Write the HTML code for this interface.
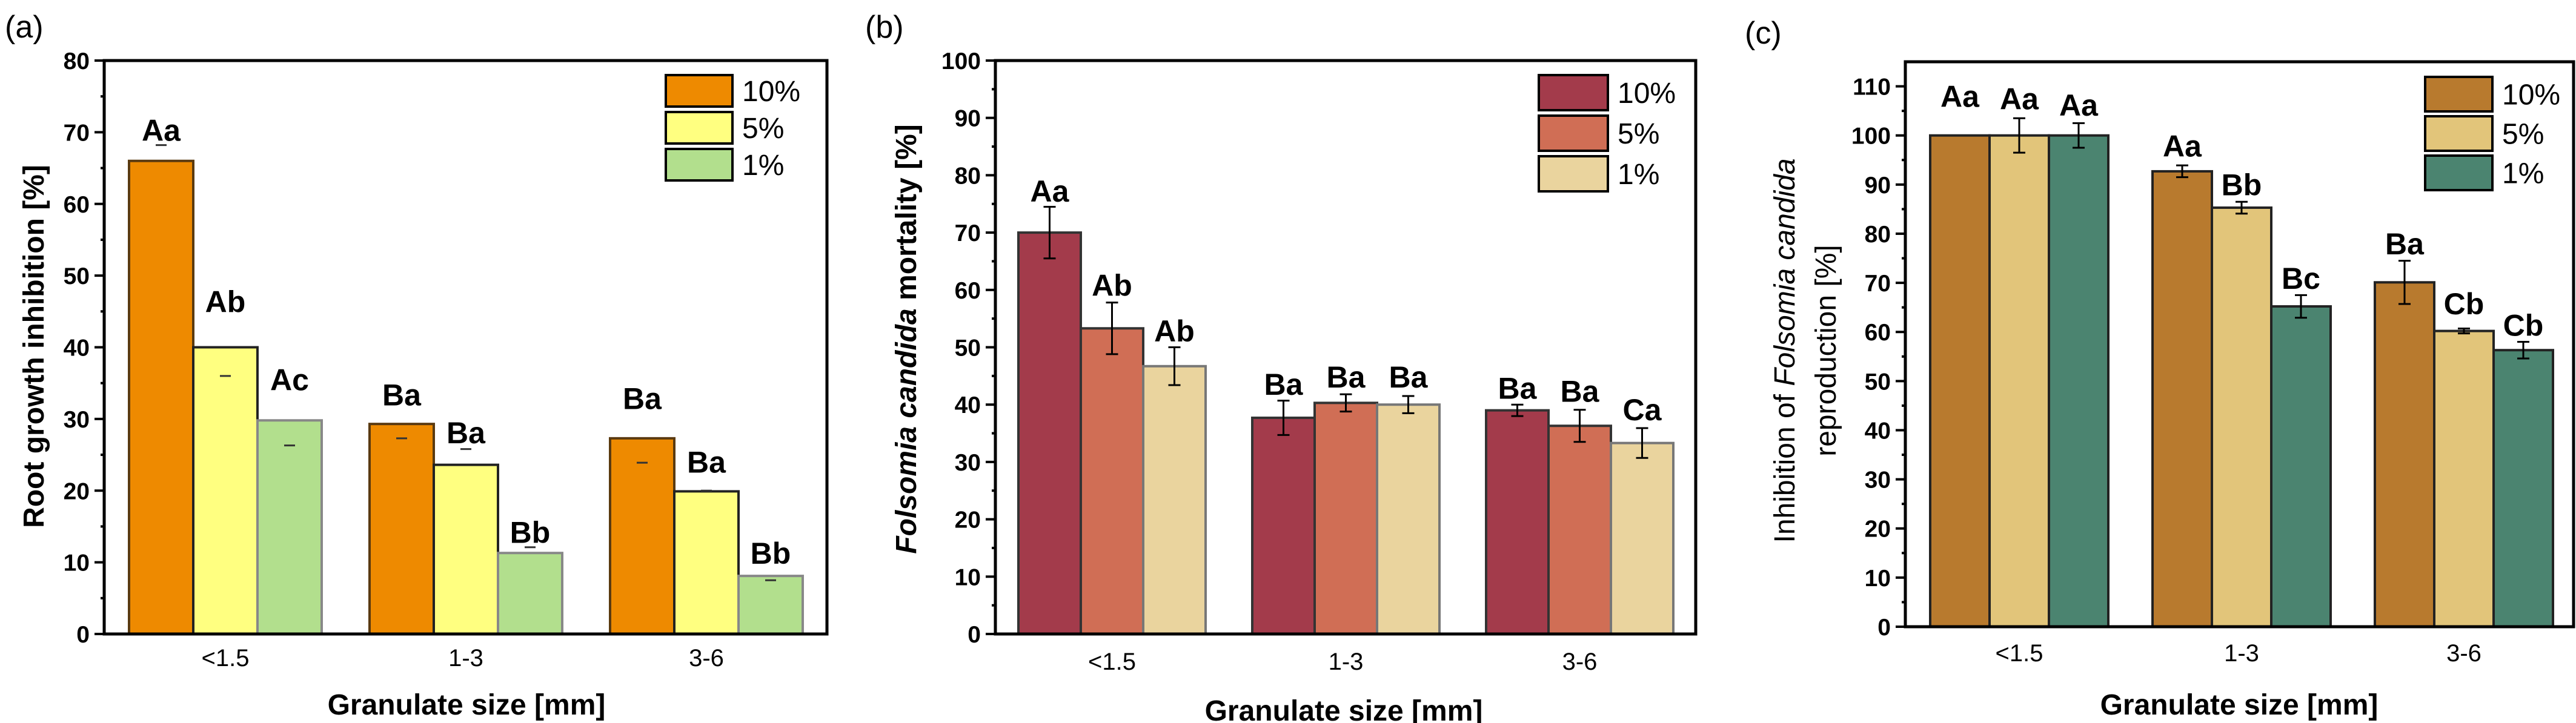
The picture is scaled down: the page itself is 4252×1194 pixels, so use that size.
<!DOCTYPE html>
<html><head><meta charset="utf-8"><style>
html,body{margin:0;padding:0;background:#fff;}
svg{display:block;font-family:"Liberation Sans",Arial,sans-serif;}
</style></head><body>
<svg id="fig" width="4252" height="1194" viewBox="0 0 4252 1194" xmlns="http://www.w3.org/2000/svg">
<text x="8" y="62" font-size="52">(a)</text>
<text x="1428" y="62" font-size="52">(b)</text>
<text x="2880" y="72" font-size="52">(c)</text>
<text transform="translate(72,572) rotate(-90)" text-anchor="middle" font-size="48" font-weight="bold">Root growth inhibition [%]</text>
<text transform="translate(1512,560) rotate(-90)" text-anchor="middle" font-size="48" font-weight="bold"><tspan font-style="italic">Folsomia candida</tspan> mortality [%]</text>
<text transform="translate(2962,579) rotate(-90)" text-anchor="middle" font-size="48">Inhibition of <tspan font-style="italic">Folsomia candida</tspan></text>
<text transform="translate(3030,579) rotate(-90)" text-anchor="middle" font-size="48">reproduction [%]</text>
<text x="770" y="1180" text-anchor="middle" font-size="48" font-weight="bold">Granulate size [mm]</text>
<text x="2218" y="1190" text-anchor="middle" font-size="48" font-weight="bold">Granulate size [mm]</text>
<text x="3696" y="1180" text-anchor="middle" font-size="48" font-weight="bold">Granulate size [mm]</text>
</svg>
<script>
const categories = ["<1.5","1-3","3-6"];
const seriesNames = ["10%","5%","1%"];
// panel a
const aValues10 = [66, 29.3, 27.3];
const aValues5 = [40, 23.6, 19.9];
const aValues1 = [29.8, 11.3, 8.1];
const aLetters = [["Aa","Ab","Ac"],["Ba","Ba","Bb"],["Ba","Ba","Bb"]];
const aLetterY = [[68.8,44.9,34],[31.9,26.6,12.7],[31.4,22.5,9.8]];
const aErrMark = [[68.2,36,26.3],[27.3,25.8,12.1],[23.9,20,7.5]];
const aTicks = [0,10,20,30,40,50,60,70,80];
// panel b
const bValues10 = [70, 37.7, 39];
const bValues5 = [53.3, 40.3, 36.3];
const bValues1 = [46.7, 40, 33.3];
const bErr10 = [4.5, 3, 1];
const bErr5 = [4.5, 1.5, 2.8];
const bErr1 = [3.3, 1.5, 2.6];
const bLetters = [["Aa","Ab","Ab"],["Ba","Ba","Ba"],["Ba","Ba","Ca"]];
const bLetterY = [[75.4,59,51],[41.7,43,43],[41,40.5,37.3]];
const bTicks = [0,10,20,30,40,50,60,70,80,90,100];
// panel c
const cValues10 = [100, 92.7, 70.1];
const cValues5 = [100, 85.3, 60.2];
const cValues1 = [100, 65.2, 56.3];
const cErr10 = [0, 1.2, 4.4];
const cErr5 = [3.5, 1.2, 0.5];
const cErr1 = [2.5, 2.3, 1.7];
const cLetters = [["Aa","Aa","Aa"],["Aa","Bb","Bc"],["Ba","Cb","Cb"]];
const cLetterY = [[105.8,105.3,104],[95.7,87.8,68.8],[75.8,63.6,59.2]];
const cTicks = [0,10,20,30,40,50,60,70,80,90,100,110];

const NS="http://www.w3.org/2000/svg";
const svg=document.getElementById('fig');
function mk(tag,attrs,parent){const e=document.createElementNS(NS,tag);for(const k in attrs)e.setAttribute(k,attrs[k]);(parent||svg).appendChild(e);return e;}

function panel(p){
  const g=mk('g',{});
  
  
  const y=v=>p.y0-(v-p.ymin)/(p.ymax-p.ymin)*(p.y0-p.top);
  // ticks
  for(let v=p.ymin; v<=p.tickMax+0.001; v+=p.minor){
    const major=Math.abs(v/p.major-Math.round(v/p.major))<1e-6;
    const t=mk('line',{x1:p.left-(major?16:6),x2:p.left,y1:y(v),y2:y(v),stroke:'#000','stroke-width':4},g);
    
    
  }
  p.ticks.forEach(v=>{
    const t=mk('text',{x:p.left-24,y:y(v)+14,'text-anchor':'end','font-size':39,'font-weight':'bold'},g);
    t.textContent=v;
    
    
  });
  // bars
  const series=[p.v10,p.v5,p.v1];
  categories.forEach((c,i)=>{
    const gx=p.g0+i*p.gstep;
    series.forEach((vals,s)=>{
      const x=gx+s*p.bw, v=vals[i];
      const r=mk('rect',{x:x,y:y(v),width:p.bw,height:y(0)-y(v),fill:p.colors[s],stroke:p.stroke[s],'stroke-width':4},g);
      
      
      const cx=x+p.bw/2;
      if(p.err){
        const e=p.err[s][i];
        if(e>0){
          const el=mk('path',{d:`M${cx},${y(v-e)}V${y(v+e)}M${cx-10},${y(v-e)}h20M${cx-10},${y(v+e)}h20`,stroke:'#000','stroke-width':3,fill:'none'},g);
          
          
        }
      }
      if(p.errMark){
        const m=mk('line',{x1:cx-9,x2:cx+9,y1:y(p.errMark[i][s]),y2:y(p.errMark[i][s]),stroke:'#333','stroke-width':3},g);
        
        
      }
      const lt=mk('text',{x:cx,y:y(p.letterY[i][s]),'text-anchor':'middle','font-size':50,'font-weight':'bold'},g);
      lt.textContent=p.letters[i][s];
      
      
    });
    const cl=mk('text',{x:gx+1.5*p.bw,y:p.catY,'text-anchor':'middle','font-size':40},g);
    cl.textContent=c;
    
    
  });
  // frame
  const fr=mk('rect',{x:p.left,y:p.top,width:p.right-p.left,height:y(0)-p.top,fill:'none',stroke:'#000','stroke-width':5},g);
  
  
  // legend
  seriesNames.forEach((n,s)=>{
    const ly=p.legY+s*p.legStep;
    const r=mk('rect',{x:p.legX,y:ly,width:p.legW,height:p.legH,fill:p.colors[s],stroke:'#000','stroke-width':4},g);
    
    
    const t=mk('text',{x:p.legX+p.legW+16,y:ly+p.legH/2+17,'font-size':48},g);
    t.textContent=n;
    
    
  });
}
panel({id:'a',left:172,right:1365,top:100,y0:1047,ymin:0,ymax:80,tickMax:80,major:10,minor:5,ticks:aTicks,
  v10:aValues10,v5:aValues5,v1:aValues1,errMark:aErrMark,letters:aLetters,letterY:aLetterY,
  g0:213,gstep:397,bw:106,catY:1100,colors:['#EE8A00','#FFFF80','#B2DF8D'],stroke:['#5a3a10','#222','#888'],
  legX:1099,legY:124,legStep:61,legW:110,legH:52});
panel({id:'b',left:1643,right:2799,top:100,y0:1047,ymin:0,ymax:100,tickMax:100,major:10,minor:5,ticks:bTicks,
  v10:bValues10,v5:bValues5,v1:bValues1,err:[bErr10,bErr5,bErr1],letters:bLetters,letterY:bLetterY,
  g0:1681,gstep:386,bw:103,catY:1106,colors:['#A33B4B','#D06E55','#EAD49E'],stroke:['#333','#333','#777'],
  legX:2540,legY:124,legStep:67,legW:114,legH:58});
panel({id:'c',left:3145,right:4248,top:102,y0:1035,ymin:0,ymax:115,tickMax:110,major:10,minor:5,ticks:cTicks,
  v10:cValues10,v5:cValues5,v1:cValues1,err:[cErr10,cErr5,cErr1],letters:cLetters,letterY:cLetterY,
  g0:3186,gstep:367,bw:98,catY:1092,colors:['#B87A2E','#E2C57A','#4B8470'],stroke:['#222','#222','#222'],
  legX:4003,legY:127,legStep:65,legW:111,legH:57});
</script>
</body></html>
